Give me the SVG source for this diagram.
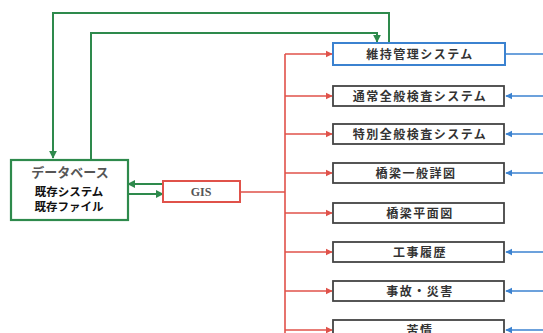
<svg xmlns="http://www.w3.org/2000/svg" width="543" height="333" viewBox="0 0 543 333">
<style>
  .box{fill:#fff;stroke:#444;stroke-width:1.8}
  .lbl{font-family:"Noto Sans CJK JP","Noto Sans",sans-serif;font-weight:bold;font-size:12px;fill:#333;text-anchor:middle;letter-spacing:1.5px}
  .db{font-family:"Noto Sans CJK JP",sans-serif;font-weight:bold;font-size:11.5px;fill:#111;text-anchor:middle}
  .g{stroke:#2e8a4c;stroke-width:2;fill:none}
  .r{stroke:#e0524a;stroke-width:1.6;fill:none}
  .b{stroke:#3b82d0;stroke-width:1.6;fill:none}
</style>
<defs>
  <marker id="ag" viewBox="0 0 10 10" refX="9" refY="5" markerWidth="4" markerHeight="4" orient="auto"><path d="M0,0L10,5L0,10z" fill="#2e8a4c"/></marker>
  <marker id="ar" viewBox="0 0 10 10" refX="9" refY="5" markerWidth="4.5" markerHeight="4.5" orient="auto"><path d="M0,0L10,5L0,10z" fill="#e0524a"/></marker>
  <marker id="ab" viewBox="0 0 10 10" refX="9" refY="5" markerWidth="4.5" markerHeight="4.5" orient="auto"><path d="M0,0L10,5L0,10z" fill="#3b82d0"/></marker>
</defs>
<rect width="543" height="333" fill="#fff"/>
<g id="connectors">
  <path class="g" d="M389,43V13H53V158" marker-end="url(#ag)"/>
  <path class="g" d="M91,160V33H377V42" marker-end="url(#ag)"/>
  <path class="g" d="M163,184H128" marker-end="url(#ag)"/>
  <path class="g" d="M128,194H163" marker-end="url(#ag)"/>
  <path class="r" d="M240,192H285M285,54V333"/>
  <path class="r" d="M285,54H332" marker-end="url(#ar)"/>
  <path class="r" d="M285,96H332" marker-end="url(#ar)"/>
  <path class="r" d="M285,134H332" marker-end="url(#ar)"/>
  <path class="r" d="M285,173H332" marker-end="url(#ar)"/>
  <path class="r" d="M285,213H332" marker-end="url(#ar)"/>
  <path class="r" d="M285,252H332" marker-end="url(#ar)"/>
  <path class="r" d="M285,291H332" marker-end="url(#ar)"/>
  <path class="r" d="M285,330H332" marker-end="url(#ar)"/>
  <path class="b" d="M505,54H543"/>
  <path class="b" d="M543,96H506" marker-end="url(#ab)"/>
  <path class="b" d="M543,134H506" marker-end="url(#ab)"/>
  <path class="b" d="M543,173H506" marker-end="url(#ab)"/>
  <path class="b" d="M543,252H506" marker-end="url(#ab)"/>
  <path class="b" d="M543,291H506" marker-end="url(#ab)"/>
  <path class="b" d="M543,330H506" marker-end="url(#ab)"/>
</g>
<g id="database">
  <rect x="11" y="160" width="117" height="60" fill="#fff" stroke="#2e8a4c" stroke-width="2.2"/>
  <text x="70" y="177" font-family="'Noto Sans CJK JP',sans-serif" font-weight="bold" font-size="13" fill="#555" text-anchor="middle">データベース</text>
  <text class="db" x="69" y="196">既存システム</text>
  <text class="db" x="69" y="211">既存ファイル</text>
</g>
<g id="gis">
  <rect x="163" y="181" width="77" height="21" fill="#fff" stroke="#e0524a" stroke-width="2"/>
  <text x="201" y="196" font-family="'Liberation Serif',serif" font-weight="bold" font-size="12" fill="#555" text-anchor="middle">GIS</text>
</g>
<g id="n1"><rect x="333" y="43" width="172" height="22" fill="#fff" stroke="#3b82d0" stroke-width="2"/><text class="lbl" x="420" y="59">維持管理システム</text></g>
<g id="n2"><rect class="box" x="333" y="86" width="171" height="20"/><text class="lbl" x="420" y="101">通常全般検査システム</text></g>
<g id="n3"><rect class="box" x="333" y="124" width="171" height="20"/><text class="lbl" x="420" y="139">特別全般検査システム</text></g>
<g id="n4"><rect class="box" x="333" y="163" width="171" height="20"/><text class="lbl" x="416" y="178">橋梁一般詳図</text></g>
<g id="n5"><rect class="box" x="333" y="203" width="171" height="20"/><text class="lbl" x="420" y="218">橋梁平面図</text></g>
<g id="n6"><rect class="box" x="333" y="242" width="171" height="20"/><text class="lbl" x="420" y="257">工事履歴</text></g>
<g id="n7"><rect class="box" x="333" y="281" width="171" height="20"/><text class="lbl" x="420" y="296">事故・災害</text></g>
<g id="n8"><rect class="box" x="333" y="320" width="171" height="20"/><text class="lbl" x="420" y="335">苦情</text></g>
</svg>
